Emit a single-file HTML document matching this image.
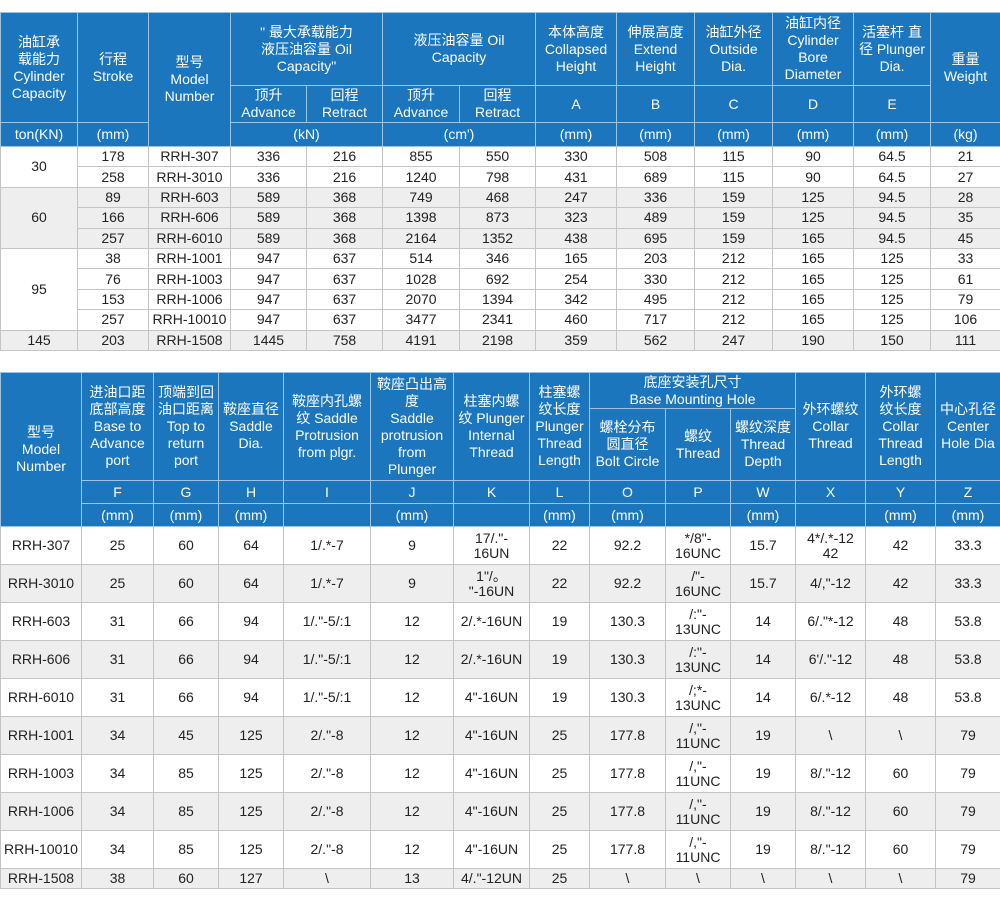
<!DOCTYPE html>
<html><head><meta charset="utf-8"><style>
body{margin:0;width:1000px;height:910px;background:#fff;position:relative;overflow:hidden;font-family:"Liberation Sans","Noto Sans CJK SC",sans-serif;}
table{position:absolute;left:0;border-collapse:collapse;table-layout:fixed;width:1000px;}
td{padding:0;text-align:center;vertical-align:middle;font-size:14px;color:#222;border:1px solid #c4c4c4;overflow:hidden;line-height:15px;}
tr.h td{background:#1b76bd;color:#fff;border:1px solid #9cc4e6;line-height:17px;font-size:14px;}
tr.g td{background:#eeeeee;}
td.g{background:#eeeeee;}
</style></head><body>
<table style="top:12px">
<colgroup><col style="width:77px"><col style="width:71px"><col style="width:82px"><col style="width:76px"><col style="width:76px"><col style="width:77px"><col style="width:76px"><col style="width:81px"><col style="width:78px"><col style="width:78px"><col style="width:81px"><col style="width:77px"><col style="width:70px"></colgroup>
<tr class="h" style="height:73px"><td rowspan="2">油缸承<br>载能力<br>Cylinder<br>Capacity</td><td rowspan="2">行程<br>Stroke</td><td rowspan="3">型号<br>Model<br>Number</td><td colspan="2">" 最大承载能力<br>液压油容量 Oil<br>Capacity"</td><td colspan="2">液压油容量 Oil<br>Capacity</td><td>本体高度<br>Collapsed<br>Height</td><td>伸展高度<br>Extend<br>Height</td><td>油缸外径<br>Outside<br>Dia.</td><td>油缸内径<br>Cylinder<br>Bore<br>Diameter</td><td>活塞杆 直<br>径 Plunger<br>Dia.</td><td rowspan="2">重量<br>Weight</td></tr>
<tr class="h" style="height:37px"><td>顶升<br>Advance</td><td>回程<br>Retract</td><td>顶升<br>Advance</td><td>回程<br>Retract</td><td>A</td><td>B</td><td>C</td><td>D</td><td>E</td></tr>
<tr class="h" style="height:24px"><td>ton(KN)</td><td>(mm)</td><td colspan="2">(kN)</td><td colspan="2">(cm')</td><td>(mm)</td><td>(mm)</td><td>(mm)</td><td>(mm)</td><td>(mm)</td><td>(kg)</td></tr>
<tr style="height:20.4px"><td rowspan="2">30</td><td>178</td><td>RRH-307</td><td>336</td><td>216</td><td>855</td><td>550</td><td>330</td><td>508</td><td>115</td><td>90</td><td>64.5</td><td>21</td></tr>
<tr style="height:20.4px"><td>258</td><td>RRH-3010</td><td>336</td><td>216</td><td>1240</td><td>798</td><td>431</td><td>689</td><td>115</td><td>90</td><td>64.5</td><td>27</td></tr>
<tr class="g" style="height:20.4px"><td rowspan="3">60</td><td>89</td><td>RRH-603</td><td>589</td><td>368</td><td>749</td><td>468</td><td>247</td><td>336</td><td>159</td><td>125</td><td>94.5</td><td>28</td></tr>
<tr class="g" style="height:20.4px"><td>166</td><td>RRH-606</td><td>589</td><td>368</td><td>1398</td><td>873</td><td>323</td><td>489</td><td>159</td><td>125</td><td>94.5</td><td>35</td></tr>
<tr class="g" style="height:20.4px"><td>257</td><td>RRH-6010</td><td>589</td><td>368</td><td>2164</td><td>1352</td><td>438</td><td>695</td><td>159</td><td>165</td><td>94.5</td><td>45</td></tr>
<tr style="height:20.4px"><td rowspan="4">95</td><td>38</td><td>RRH-1001</td><td>947</td><td>637</td><td>514</td><td>346</td><td>165</td><td>203</td><td>212</td><td>165</td><td>125</td><td>33</td></tr>
<tr style="height:20.4px"><td>76</td><td>RRH-1003</td><td>947</td><td>637</td><td>1028</td><td>692</td><td>254</td><td>330</td><td>212</td><td>165</td><td>125</td><td>61</td></tr>
<tr style="height:20.4px"><td>153</td><td>RRH-1006</td><td>947</td><td>637</td><td>2070</td><td>1394</td><td>342</td><td>495</td><td>212</td><td>165</td><td>125</td><td>79</td></tr>
<tr style="height:20.4px"><td>257</td><td>RRH-10010</td><td>947</td><td>637</td><td>3477</td><td>2341</td><td>460</td><td>717</td><td>212</td><td>165</td><td>125</td><td>106</td></tr>
<tr class="g" style="height:20.4px"><td>145</td><td>203</td><td>RRH-1508</td><td>1445</td><td>758</td><td>4191</td><td>2198</td><td>359</td><td>562</td><td>247</td><td>190</td><td>150</td><td>111</td></tr>
</table>

<table style="top:372px">
<colgroup><col style="width:81px"><col style="width:72px"><col style="width:65px"><col style="width:65px"><col style="width:87px"><col style="width:83px"><col style="width:76px"><col style="width:60px"><col style="width:76px"><col style="width:65px"><col style="width:65px"><col style="width:70px"><col style="width:70px"><col style="width:65px"></colgroup>
<tr class="h" style="height:36px"><td rowspan="4">型号<br>Model<br>Number</td><td rowspan="2">进油口距<br>底部高度<br>Base to<br>Advance<br>port</td><td rowspan="2">顶端到回<br>油口距离<br>Top to<br>return<br>port</td><td rowspan="2">鞍座直径<br>Saddle<br>Dia.</td><td rowspan="2">鞍座内孔螺<br>纹 Saddle<br>Protrusion<br>from plgr.</td><td rowspan="2">鞍座凸出高<br>度<br>Saddle<br>protrusion<br>from<br>Plunger</td><td rowspan="2">柱塞内螺<br>纹 Plunger<br>Internal<br>Thread</td><td rowspan="2">柱塞螺<br>纹长度<br>Plunger<br>Thread<br>Length</td><td colspan="3">底座安装孔尺寸<br>Base Mounting Hole</td><td rowspan="2">外环螺纹<br>Collar<br>Thread</td><td rowspan="2">外环螺<br>纹长度<br>Collar<br>Thread<br>Length</td><td rowspan="2">中心孔径<br>Center<br>Hole Dia</td></tr>
<tr class="h" style="height:72px"><td>螺栓分布<br>圆直径<br>Bolt Circle</td><td>螺纹<br>Thread</td><td>螺纹深度<br>Thread<br>Depth</td></tr>
<tr class="h" style="height:23px"><td>F</td><td>G</td><td>H</td><td>I</td><td>J</td><td>K</td><td>L</td><td>O</td><td>P</td><td>W</td><td>X</td><td>Y</td><td>Z</td></tr>
<tr class="h" style="height:23px"><td>(mm)</td><td>(mm)</td><td>(mm)</td><td></td><td>(mm)</td><td></td><td>(mm)</td><td>(mm)</td><td></td><td>(mm)</td><td></td><td>(mm)</td><td>(mm)</td></tr>
<tr style="height:38px"><td>RRH-307</td><td>25</td><td>60</td><td>64</td><td>1/.*-7</td><td>9</td><td>17/."-<br>16UN</td><td>22</td><td>92.2</td><td>*/8"-<br>16UNC</td><td>15.7</td><td>4*/.*-12<br>42</td><td>42</td><td>33.3</td></tr>
<tr class="g" style="height:38px"><td>RRH-3010</td><td>25</td><td>60</td><td>64</td><td>1/.*-7</td><td>9</td><td>1"/。<br>"-16UN</td><td>22</td><td>92.2</td><td>/"-<br>16UNC</td><td>15.7</td><td>4/,"-12</td><td>42</td><td>33.3</td></tr>
<tr style="height:38px"><td>RRH-603</td><td>31</td><td>66</td><td>94</td><td>1/."-5/:1</td><td>12</td><td>2/.*-16UN</td><td>19</td><td>130.3</td><td>/:"-<br>13UNC</td><td>14</td><td>6/."*-12</td><td>48</td><td>53.8</td></tr>
<tr class="g" style="height:38px"><td>RRH-606</td><td>31</td><td>66</td><td>94</td><td>1/."-5/:1</td><td>12</td><td>2/.*-16UN</td><td>19</td><td>130.3</td><td>/:"-<br>13UNC</td><td>14</td><td>6'/."-12</td><td>48</td><td>53.8</td></tr>
<tr style="height:38px"><td>RRH-6010</td><td>31</td><td>66</td><td>94</td><td>1/."-5/:1</td><td>12</td><td>4"-16UN</td><td>19</td><td>130.3</td><td>/;*-<br>13UNC</td><td>14</td><td>6/.*-12</td><td>48</td><td>53.8</td></tr>
<tr class="g" style="height:38px"><td>RRH-1001</td><td>34</td><td>45</td><td>125</td><td>2/."-8</td><td>12</td><td>4"-16UN</td><td>25</td><td>177.8</td><td>/,"-<br>11UNC</td><td>19</td><td>\</td><td>\</td><td>79</td></tr>
<tr style="height:38px"><td>RRH-1003</td><td>34</td><td>85</td><td>125</td><td>2/."-8</td><td>12</td><td>4"-16UN</td><td>25</td><td>177.8</td><td>/,"-<br>11UNC</td><td>19</td><td>8/."-12</td><td>60</td><td>79</td></tr>
<tr class="g" style="height:38px"><td>RRH-1006</td><td>34</td><td>85</td><td>125</td><td>2/."-8</td><td>12</td><td>4"-16UN</td><td>25</td><td>177.8</td><td>/,"-<br>11UNC</td><td>19</td><td>8/."-12</td><td>60</td><td>79</td></tr>
<tr style="height:38px"><td>RRH-10010</td><td>34</td><td>85</td><td>125</td><td>2/."-8</td><td>12</td><td>4"-16UN</td><td>25</td><td>177.8</td><td>/,"-<br>11UNC</td><td>19</td><td>8/."-12</td><td>60</td><td>79</td></tr>
<tr class="g" style="height:20px"><td>RRH-1508</td><td>38</td><td>60</td><td>127</td><td>\</td><td>13</td><td>4/."-12UN</td><td>25</td><td>\</td><td>\</td><td>\</td><td>\</td><td>\</td><td>79</td></tr>
</table>
</body></html>
